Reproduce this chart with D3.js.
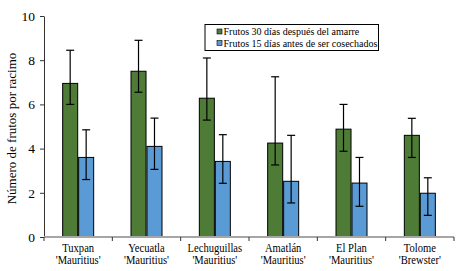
<!DOCTYPE html>
<html>
<head>
<meta charset="utf-8">
<script src="https://cdn.jsdelivr.net/npm/d3@7"></script>
<style>
  body { margin: 0; background: #fff; }
  svg text { font-family: "Liberation Serif", "Times New Roman", Times, "DejaVu Serif", serif !important; }
</style>
</head>
<body>
<div id="chart"></div>
<script>
// data
const sites = ["Tuxpan", "Yecuatla", "Lechuguillas", "Amatlán", "El Plan", "Tolome"];
const cultivars = ["'Mauritius'", "'Mauritius'", "'Mauritius'", "'Mauritius'", "'Mauritius'", "'Brewster'"];
const series = ["Frutos 30 días después del amarre", "Frutos 15 días antes de ser cosechados"];
const frutos30 = [6.95, 7.5, 6.28, 4.25, 4.88, 4.6];
const err30Low = [6.0, 6.55, 5.29, 3.26, 3.88, 3.6];
const err30High = [8.45, 8.9, 8.1, 7.25, 6.0, 5.37];
const frutos15 = [3.6, 4.1, 3.42, 2.52, 2.44, 1.98];
const err15Low = [2.6, 3.06, 2.43, 1.54, 1.39, 0.98];
const err15High = [4.85, 5.38, 4.63, 4.6, 3.6, 2.68];
const yTicks = [0, 2, 4, 6, 8, 10];
const colors = ["#4e7b36", "#5b9bd5"];

const width = 459, height = 271;
const margin = { top: 16, right: 5, bottom: 34, left: 44 };

const svg = d3.select("#chart").append("svg")
  .attr("width", width)
  .attr("height", height);

// x scale over the sites
const x = d3.scaleBand()
  .domain(sites)
  .range([margin.left, width - margin.right]);

const inner = d3.scaleBand()
  .domain([0, 1])
  .range([-15.5, 15.5])
  .paddingInner(0.06);

// y scale for number of fruits
const y = d3.scaleLinear()
  .domain([0, 10])
  .range([height - margin.bottom, margin.top]);

// y axis
const yAxis = svg.append("g")
  .attr("transform", `translate(${margin.left},0)`)
  .call(d3.axisLeft(y).tickValues(yTicks).tickSize(4).tickSizeOuter(0).tickPadding(5));
yAxis.select(".domain").attr("stroke", "#333").attr("stroke-width", 1);
yAxis.selectAll(".tick line").attr("stroke", "#333");
yAxis.selectAll(".tick text").attr("font-size", 13.5).attr("fill", "#000");

// bars
const groups = [
  { vals: frutos30, lo: err30Low, hi: err30High },
  { vals: frutos15, lo: err15Low, hi: err15High }
];

groups.forEach((g, si) => {
  const cx = i => x(sites[i]) + x.bandwidth() / 2 + inner(si);
  svg.append("g").selectAll("rect")
    .data(g.vals)
    .join("rect")
    .attr("x", (d, i) => cx(i))
    .attr("y", d => y(d))
    .attr("width", inner.bandwidth())
    .attr("height", d => y(0) - y(d))
    .attr("fill", colors[si])
    .attr("stroke", "#000")
    .attr("stroke-width", 1);

  // error bars
  const eg = svg.append("g").attr("stroke", "#000").attr("stroke-width", 1.2);
  g.vals.forEach((d, i) => {
    const mx = cx(i) + inner.bandwidth() / 2;
    eg.append("line").attr("x1", mx).attr("x2", mx).attr("y1", y(g.lo[i])).attr("y2", y(g.hi[i]));
    eg.append("line").attr("x1", mx - 4).attr("x2", mx + 4).attr("y1", y(g.lo[i])).attr("y2", y(g.lo[i]));
    eg.append("line").attr("x1", mx - 4).attr("x2", mx + 4).attr("y1", y(g.hi[i])).attr("y2", y(g.hi[i]));
  });
});

// x axis line and separator ticks
const xAxis = svg.append("g");
xAxis.append("line")
  .attr("x1", margin.left).attr("x2", width - margin.right)
  .attr("y1", y(0)).attr("y2", y(0))
  .attr("stroke", "#a6a6a6").attr("stroke-width", 2);
xAxis.selectAll(".sep")
  .data(sites)
  .join("line")
  .attr("x1", d => x(d) + x.bandwidth()).attr("x2", d => x(d) + x.bandwidth())
  .attr("y1", y(0)).attr("y2", y(0) + 4)
  .attr("stroke", "#333");
xAxis.append("line")
  .attr("x1", margin.left).attr("x2", margin.left)
  .attr("y1", y(0)).attr("y2", y(0) + 4)
  .attr("stroke", "#333");

// category labels (two lines, slightly condensed like the original)
const lab = svg.append("g").attr("font-size", 11.5).attr("text-anchor", "middle").attr("fill", "#000");
sites.forEach((s, i) => {
  const g = lab.append("g")
    .attr("transform", `translate(${x(s) + x.bandwidth() / 2},${y(0) + 15}) scale(0.92,1)`);
  g.append("text").attr("x", 0).attr("y", 0).text(s);
  g.append("text").attr("x", 0).attr("y", 12.5).text(cultivars[i]);
});

// y axis title
svg.append("text")
  .attr("transform", `translate(15.5,${(y(0) + y(10)) / 2 + 2}) rotate(-90)`)
  .attr("text-anchor", "middle")
  .attr("font-size", 13)
  .text("Número de frutos por racimo");

// legend
const legend = svg.append("g").attr("transform", "translate(205,24.5)");
legend.append("rect")
  .attr("width", 173.5).attr("height", 26)
  .attr("fill", "#fff").attr("stroke", "#000").attr("stroke-width", 1);
series.forEach((s, i) => {
  legend.append("rect")
    .attr("x", 12).attr("y", 4.5 + i * 11.5)
    .attr("width", 5).attr("height", 5)
    .attr("fill", colors[i]).attr("stroke", "#000").attr("stroke-width", 0.6);
  legend.append("text")
    .attr("x", 18.5).attr("y", 10.5 + i * 11.5)
    .attr("font-size", 10)
    .text(s);
});
</script>
</body>
</html>
